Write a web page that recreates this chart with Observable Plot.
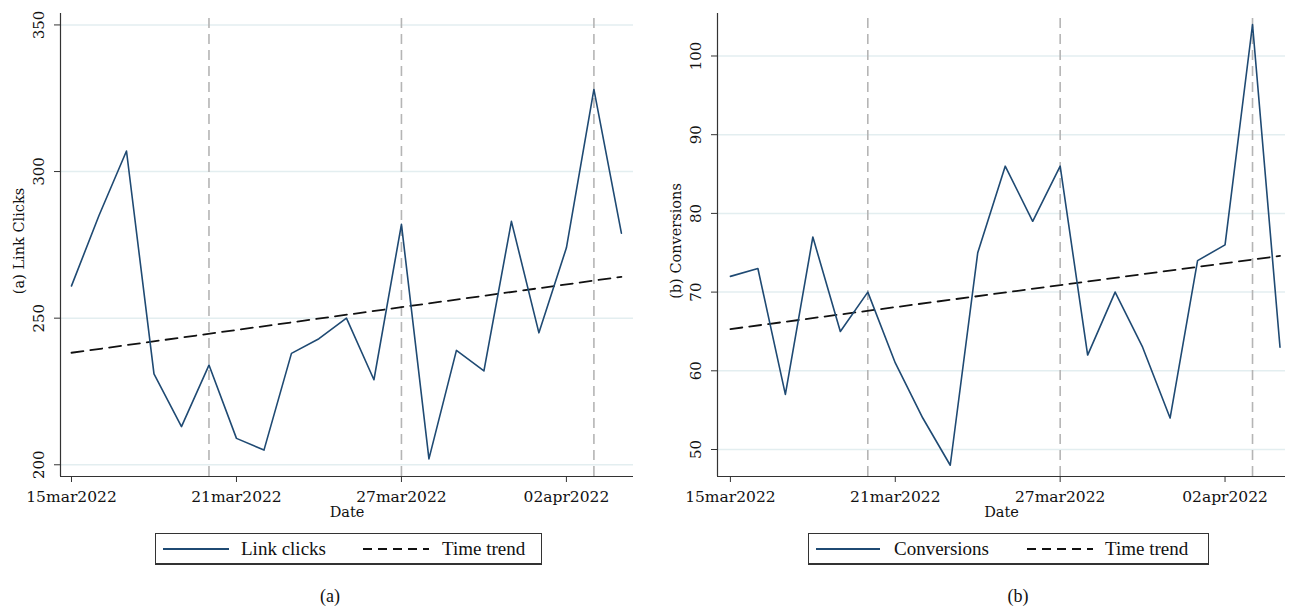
<!DOCTYPE html>
<html>
<head>
<meta charset="utf-8">
<script src="https://cdn.jsdelivr.net/npm/d3@7"></script>
<script src="https://cdn.jsdelivr.net/npm/@observablehq/plot@0.6"></script>
<style>
  html, body { margin: 0; padding: 0; background: #fff; }
  #wrap { position: relative; width: 1292px; height: 607px; overflow: hidden; }
  .panel { position: absolute; top: 0; }
  .legend { position: absolute; top: 533px; height: 32px; border: 1px solid #333; border-bottom: 2px solid #333;
            box-sizing: border-box; display: flex; align-items: center; font-family: "Liberation Serif", serif;
            font-size: 19px; color: #111; white-space: nowrap; }
  .legend svg { display: block; }
  .legend .item { display: flex; align-items: center; }
  .caption { position: absolute; top: 586px; font-family: "Liberation Serif", serif; font-size: 18px; color: #111;
             transform: translateX(-50%); }
</style>
</head>
<body>
<div id="wrap">
  <div id="left" class="panel" style="left:0px"></div>
  <div id="right" class="panel" style="left:646px"></div>

  <div class="legend" style="left:155px; width:387px;">
    <div class="item" style="margin-left:7px"><svg width="66" height="10"><line x1="0" y1="5" x2="66" y2="5" stroke="#1f4a73" stroke-width="2"/></svg></div>
    <div class="item" style="margin-left:12px">Link clicks</div>
    <div class="item" style="margin-left:37px"><svg width="66" height="10"><line x1="0" y1="5" x2="66" y2="5" stroke="#111" stroke-width="2" stroke-dasharray="9,6"/></svg></div>
    <div class="item" style="margin-left:13px">Time trend</div>
  </div>
  <div class="legend" style="left:808px; width:401px;">
    <div class="item" style="margin-left:7px"><svg width="64" height="10"><line x1="0" y1="5" x2="64" y2="5" stroke="#1f4a73" stroke-width="2"/></svg></div>
    <div class="item" style="margin-left:14px">Conversions</div>
    <div class="item" style="margin-left:38px"><svg width="66" height="10"><line x1="0" y1="5" x2="66" y2="5" stroke="#111" stroke-width="2" stroke-dasharray="9,6"/></svg></div>
    <div class="item" style="margin-left:12px">Time trend</div>
  </div>
  <div class="caption" style="left:330px">(a)</div>
  <div class="caption" style="left:1018px">(b)</div>
</div>

<script>
// ---------------- DATA ----------------
const dates = ["2022-03-15","2022-03-16","2022-03-17","2022-03-18","2022-03-19","2022-03-20","2022-03-21",
               "2022-03-22","2022-03-23","2022-03-24","2022-03-25","2022-03-26","2022-03-27","2022-03-28",
               "2022-03-29","2022-03-30","2022-03-31","2022-04-01","2022-04-02","2022-04-03","2022-04-04"];
const linkClicks  = [261, 285, 307, 231, 213, 234, 209, 205, 238, 243, 250, 229, 282, 202, 239, 232, 283, 245, 274, 328, 279];
const conversions = [72, 73, 57, 77, 65, 70, 61, 54, 48, 75, 86, 79, 86, 62, 70, 63, 54, 74, 76, 104, 63];
const trendDates = ["2022-03-15", "2022-04-04"];
const trendClicks = [238.2, 264.1];
const trendConversions = [65.3, 74.6];
const eventDates = ["2022-03-20", "2022-03-27", "2022-04-03"];
const xTickDates = ["2022-03-15", "2022-03-21", "2022-03-27", "2022-04-02"];
const yTicksClicks = [200, 250, 300, 350];
const yTicksConversions = [50, 60, 70, 80, 90, 100];
const yTitleClicks = "(a) Link Clicks";
const yTitleConversions = "(b) Conversions";
const xTitle = "Date";

// ---------------- HELPERS ----------------
const parse = d3.utcParse("%Y-%m-%d");
const fmt = d => d3.utcFormat("%d%b%Y")(d).toLowerCase();
const DAY = 864e5;
const FONT = "DejaVu Serif, serif";
const LINE = "#1f4a73";

function panel({values, trendVals, yTicks, yDomain, yTitle, marginLeft, marginRight, padL, padR}) {
  const series = dates.map((d, i) => ({date: parse(d), value: values[i]}));
  const trend = trendDates.map((d, i) => ({date: parse(d), value: trendVals[i]}));
  const x0 = parse(dates[0]), x1 = parse(dates[dates.length - 1]);
  const xDomain = [new Date(+x0 - padL * DAY), new Date(+x1 + padR * DAY)];
  const yTop = yDomain[1] - (yDomain[1] - yDomain[0]) * 4 / 463;
  return Plot.plot({
    width: 646,
    height: 525,
    marginTop: 13,
    marginBottom: 49,
    marginLeft,
    marginRight,
    style: {fontFamily: FONT, fontSize: "14px", color: "#111", background: "white"},
    x: {type: "utc", domain: xDomain, axis: null, label: null},
    y: {domain: yDomain, axis: null, label: null},
    marks: [
      Plot.gridY(yTicks, {stroke: "#e3eef0", strokeOpacity: 1, strokeWidth: 1.5}),
      Plot.ruleX(eventDates.map(parse), {stroke: "#b5b5b5", strokeWidth: 1.6, strokeDasharray: "10,6", y1: yDomain[0], y2: yTop}),
      Plot.line(trend, {x: "date", y: "value", stroke: "#111", strokeWidth: 1.8, strokeDasharray: "12,7"}),
      Plot.line(series, {x: "date", y: "value", stroke: LINE, strokeWidth: 1.6}),
      Plot.ruleY([yDomain[0]], {stroke: "#333", strokeWidth: 1.2}),
      Plot.ruleX([xDomain[0]], {stroke: "#333", strokeWidth: 1.2}),
      Plot.axisX(xTickDates.map(parse), {label: null, tickSize: 6, tickPadding: 8, tickFormat: fmt, fontSize: 15.5, stroke: "#333", fill: "#111"}),
      Plot.axisY(yTicks, {label: null, tickSize: 6, tickFormat: () => "", stroke: "#333"}),
      Plot.text(yTicks, {y: d => d, text: d => String(d), frameAnchor: "left", dx: -21, rotate: -90, textAnchor: "middle", fontSize: 15, fill: "#111"}),
      Plot.text([yTitle], {frameAnchor: "left", dx: -41, dy: -4, rotate: -90, textAnchor: "middle", fontSize: 14.5, fill: "#111"}),
      Plot.text([xTitle], {frameAnchor: "bottom", dy: 40, textAnchor: "middle", fontSize: 14.5, fill: "#111"})
    ]
  });
}

document.getElementById("left").append(panel({
  values: linkClicks, trendVals: trendClicks, yTicks: yTicksClicks, yDomain: [196.0, 353.9],
  yTitle: yTitleClicks, marginLeft: 60, marginRight: 13, padL: 0.4, padR: 0.44
}));
document.getElementById("right").append(panel({
  values: conversions, trendVals: trendConversions, yTicks: yTicksConversions, yDomain: [46.57, 105.4],
  yTitle: yTitleConversions, marginLeft: 71, marginRight: 7, padL: 0.47, padR: 0.2
}));
</script>
</body>
</html>
